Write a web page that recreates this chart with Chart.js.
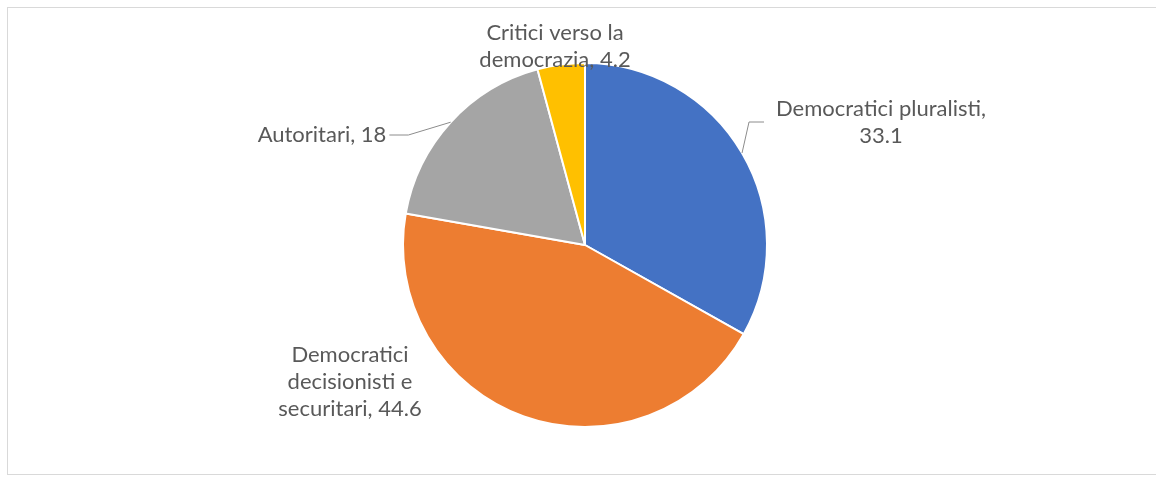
<!DOCTYPE html>
<html>
<head>
<meta charset="utf-8">
<script src="https://cdn.jsdelivr.net/npm/chart.js@4.4.1/dist/chart.umd.min.js"></script>
<style>
  html, body { margin: 0; padding: 0; background: #fff; }
  #wrap { position: relative; width: 1156px; height: 481px; overflow: hidden; }
  #frame { position: absolute; left: 7px; top: 7px; width: 1170px; height: 466px; border: 1px solid #d9d9d9; }
  canvas { position: absolute; left: 0; top: 0; }
</style>
</head>
<body>
<div id="wrap">
  <div id="frame"></div>
  <canvas id="grafico" width="1156" height="481"></canvas>
</div>
<script>
// dati
const categorie = ['Democratici pluralisti', 'Democratici decisionisti e securitari', 'Autoritari', 'Critici verso la democrazia'];
const valori = [33.1, 44.6, 18, 4.2];
const colori = ['#4472C4', '#ED7D31', '#A5A5A5', '#FFC000'];

// posizione delle etichette rispetto al centro della torta (px) + larghezza per andare a capo
const posEtichette = [
  { dx: 296, dy: -123, wrap: 230, leader: 'right' },
  { dx: -235, dy: 137, wrap: 175 },
  { dx: -263, dy: -110, wrap: 400, leader: 'left' },
  { dx: -30, dy: -199, wrap: 165 }
];

const FONT = '22px Lato, "Open Sans", sans-serif';
const LINEA = 27;

function aCapo(ctx, testo, larghezza) {
  const parole = testo.split(' ');
  const righe = [];
  let riga = '';
  parole.forEach(p => {
    const prova = riga ? riga + ' ' + p : p;
    if (riga && ctx.measureText(prova).width > larghezza) {
      righe.push(riga);
      riga = p;
    } else {
      riga = prova;
    }
  });
  if (riga) righe.push(riga);
  return righe;
}

const etichettePlugin = {
  id: 'etichette',
  afterDatasetsDraw(chart) {
    const ctx = chart.ctx;
    const meta = chart.getDatasetMeta(0);
    ctx.save();
    ctx.font = FONT;
    ctx.fillStyle = '#595959';
    ctx.textAlign = 'center';
    ctx.textBaseline = 'middle';
    meta.data.forEach((arco, i) => {
      const pos = posEtichette[i];
      const testo = chart.data.labels[i] + ', ' + chart.data.datasets[0].data[i];
      const righe = aCapo(ctx, testo, pos.wrap);
      const cx = arco.x + pos.dx;
      const cy = arco.y + pos.dy;
      const y0 = cy - (righe.length - 1) * LINEA / 2;
      let maxW = 0;
      righe.forEach((r, k) => {
        ctx.fillText(r, cx, y0 + k * LINEA);
        maxW = Math.max(maxW, ctx.measureText(r).width);
      });

      if (pos.leader) {
        const mid = (arco.startAngle + arco.endAngle) / 2;
        const ax = arco.x + Math.cos(mid) * arco.outerRadius;
        const ay = arco.y + Math.sin(mid) * arco.outerRadius;
        let ex, gx;
        if (pos.leader === 'right') {
          ex = cx - maxW / 2 - 12;
          gx = ex - 15;
        } else {
          ex = cx + maxW / 2 + 3;
          gx = ex + 19;
        }
        ctx.beginPath();
        ctx.strokeStyle = '#8c8c8c';
        ctx.lineWidth = 1;
        ctx.moveTo(ax, ay);
        ctx.lineTo(gx, cy);
        ctx.lineTo(ex, cy);
        ctx.stroke();
      }
    });
    ctx.restore();
  }
};

new Chart(document.getElementById('grafico'), {
  type: 'pie',
  data: {
    labels: categorie,
    datasets: [{
      data: valori,
      backgroundColor: colori,
      borderColor: '#ffffff',
      borderWidth: 2,
      radius: 182
    }]
  },
  options: {
    responsive: false,
    animation: false,
    layout: { padding: { top: 63, bottom: 54, left: 214, right: 200 } },
    plugins: {
      legend: { display: false },
      tooltip: { enabled: false }
    }
  },
  plugins: [etichettePlugin]
});
</script>
</body>
</html>
